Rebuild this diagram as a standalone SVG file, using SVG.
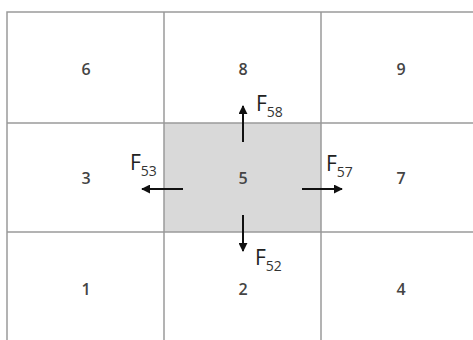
<svg xmlns="http://www.w3.org/2000/svg" width="473" height="340" viewBox="0 0 473 340">
<defs>
<style>
.grid{stroke:#9a9a9a;stroke-width:1.5;fill:none}
.num{font-family:"Open Sans","Noto Sans",sans-serif;font-size:16px;font-weight:600;fill:#444;text-anchor:middle}
.lab{font-family:"Open Sans","Noto Sans",sans-serif;font-size:21px;fill:#222}
.sub{font-size:14px;fill:#333}
.arr{stroke:#111;stroke-width:2;fill:none;marker-end:url(#ah)}
</style>
<marker id="ah" viewBox="0 0 10 10" refX="9" refY="5" markerWidth="4.5" markerHeight="4.5" orient="auto" markerUnits="strokeWidth">
<path d="M0,0 L10,5 L0,10 z" fill="#111"/>
</marker>
</defs>
<rect x="0" y="0" width="473" height="340" fill="#fff"/>
<g id="cell5"><rect x="164" y="123" width="157" height="109" fill="#d9d9d9"/><text class="num" x="243" y="184">5</text></g>
<g id="grid">
<path class="grid" d="M7,340 V12 H473 M164,12 V340 M321,12 V340 M7,123 H473 M7,232 H473"/>
</g>
<g id="cell6"><text class="num" x="86" y="75">6</text></g>
<g id="cell8"><text class="num" x="243" y="75">8</text></g>
<g id="cell9"><text class="num" x="401" y="75">9</text></g>
<g id="cell3"><text class="num" x="86" y="184">3</text></g>
<g id="cell7"><text class="num" x="401" y="184">7</text></g>
<g id="cell1"><text class="num" x="86" y="295">1</text></g>
<g id="cell2"><text class="num" x="243" y="295">2</text></g>
<g id="cell4"><text class="num" x="401" y="295">4</text></g>
<g id="connectors">
<line class="arr" x1="243" y1="142" x2="243" y2="106"/>
<line class="arr" x1="183" y1="189" x2="142" y2="189"/>
<line class="arr" x1="302" y1="189" x2="342" y2="189"/>
<line class="arr" x1="243" y1="215" x2="243" y2="251"/>
</g>
<g id="labels">
<text class="lab" x="256" y="111">F<tspan class="sub" dy="6">58</tspan></text>
<text class="lab" x="130" y="170">F<tspan class="sub" dy="6">53</tspan></text>
<text class="lab" x="326" y="171">F<tspan class="sub" dy="6">57</tspan></text>
<text class="lab" x="255" y="265">F<tspan class="sub" dy="6">52</tspan></text>
</g>
</svg>
